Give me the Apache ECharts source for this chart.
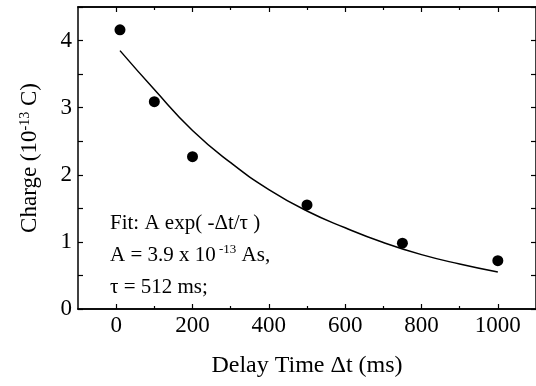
<!DOCTYPE html>
<html>
<head>
<meta charset="utf-8">
<script src="https://cdn.jsdelivr.net/npm/echarts@6/dist/echarts.min.js"></script>
<style>
  html, body { margin: 0; padding: 0; background: #fff; }
  #chart { width: 536px; height: 386px; }
</style>
</head>
<body>
<div id="chart"></div>
<script>
// measured points
const delayTimes = [10, 100, 200, 500, 750, 1000];
const charges = [4.16, 3.09, 2.27, 1.55, 0.98, 0.72];

// fit curve
const fitTimes = [10, 100, 200, 300, 400, 500, 600, 700, 800, 900, 1000];
const fitCharges = [3.85, 3.27, 2.66, 2.18, 1.78, 1.46, 1.21, 0.99, 0.81, 0.67, 0.55];

// tick positions
const xMajorTicks = [0, 200, 400, 600, 800, 1000];
const xMinorTicks = [100, 300, 500, 700, 900];

const fitLines = [
  'Fit: A exp( -\u0394t/\u03c4 )',
  '{n|A = 3.9 x 10}{s| -13}{n| As,}',
  '\u03c4 = 512 ms;'
];

const font = '"Liberation Serif", "DejaVu Serif", serif';
const chart = echarts.init(document.getElementById('chart'));

const axisLine = { show: true, onZero: false, lineStyle: { color: '#000', width: 1.5 } };

// x axes: bottom/top frame with major ticks, plus overlays carrying the minor ticks
function xAxisDef(pos, withLabels, ticks, len) {
  return {
    type: 'value', min: -100, max: 1100, position: pos,
    axisLine: axisLine,
    splitLine: { show: false },
    axisLabel: withLabels
      ? { fontFamily: font, fontSize: 23, color: '#000', margin: 5, customValues: ticks,
          formatter: v => String(v) }
      : { show: false },
    axisTick: { show: true, inside: true, length: len, customValues: ticks,
      lineStyle: { color: '#000', width: 1.2 } }
  };
}

function yAxisDef(pos, withLabels) {
  return {
    type: 'value', min: 0, max: 4.5, interval: 0.5, position: pos,
    axisLine: axisLine,
    splitLine: { show: false },
    axisTick: { show: true, inside: true, length: 5, lineStyle: { color: '#000', width: 1.2 } },
    axisLabel: withLabels
      ? { fontFamily: font, fontSize: 23, color: '#000', margin: 6,
          formatter: v => (Number.isInteger(v) ? String(v) : '') }
      : { show: false }
  };
}

const xBottom = xAxisDef('bottom', true, xMajorTicks, 5);
xBottom.name = 'Delay Time \u0394t (ms)';
xBottom.nameLocation = 'middle';
xBottom.nameGap = 45;
xBottom.nameTextStyle = { fontFamily: font, fontSize: 24, color: '#000' };

const yLeft = yAxisDef('left', true);
yLeft.name = '{n|Charge (10}{s|-13}{n| C)}';
yLeft.nameLocation = 'middle';
yLeft.nameGap = 36;
yLeft.nameTextStyle = {
  color: '#000',
  rich: {
    n: { fontFamily: font, fontSize: 23, color: '#000' },
    s: { fontFamily: font, fontSize: 14, color: '#000', verticalAlign: 'bottom', padding: [0, 0, 10, 0] }
  }
};

chart.setOption({
  animation: false,
  backgroundColor: '#fff',
  textStyle: { fontFamily: font },
  grid: { left: 78, top: 7, width: 459, height: 302 },
  xAxis: [
    xBottom,
    xAxisDef('top', false, xMajorTicks, 5),
    xAxisDef('bottom', false, xMinorTicks, 3),
    xAxisDef('top', false, xMinorTicks, 3)
  ],
  yAxis: [yLeft, yAxisDef('right', false)],
  graphic: fitLines.map((t, i) => ({
    type: 'text',
    x: 110,
    y: 223 + i * 32,
    style: {
      text: t,
      fontFamily: font,
      fontSize: 21,
      fill: '#000',
      verticalAlign: 'middle',
      rich: {
        n: { fontFamily: font, fontSize: 21, fill: '#000' },
        s: { fontFamily: font, fontSize: 13, fill: '#000', verticalAlign: 'bottom', padding: [0, 0, 10, 0] }
      }
    }
  })),
  series: [
    {
      type: 'line',
      data: fitTimes.map((x, i) => [x, fitCharges[i]]),
      smooth: true,
      showSymbol: false,
      lineStyle: { color: '#000', width: 1.5 }
    },
    {
      type: 'scatter',
      data: delayTimes.map((x, i) => [x, charges[i]]),
      symbol: 'circle',
      symbolSize: 11,
      itemStyle: { color: '#000', opacity: 1 }
    }
  ]
});
</script>
</body>
</html>
